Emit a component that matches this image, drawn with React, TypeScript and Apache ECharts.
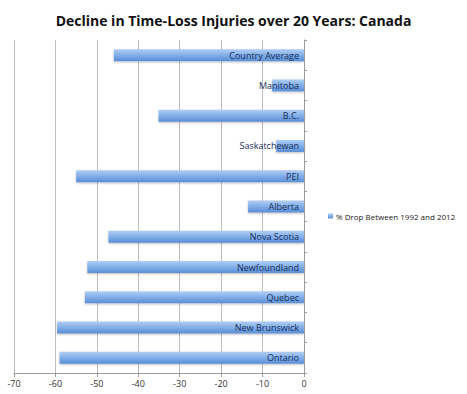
import React, { useEffect, useRef } from "react";
import * as echarts from "echarts";

const categories = [
  "Ontario",
  "New Brunswick",
  "Quebec",
  "Newfoundland",
  "Nova Scotia",
  "Alberta",
  "PEI",
  "Saskatchewan",
  "B.C.",
  "Manitoba",
  "Country Average",
];
const dropValues = [-59, -59.6, -52.9, -52.3, -47.2, -13.5, -55, -6.7, -35.1, -7.7, -45.9];
const seriesName = "% Drop Between 1992 and 2012";
const titleText = "Decline in Time-Loss Injuries over 20 Years: Canada";

export default function App() {
  const ref = useRef<HTMLDivElement>(null);
  useEffect(() => {
    if (!ref.current) return;
    const chart = echarts.init(ref.current, null, { renderer: "svg" });
    chart.setOption({
      animation: false,
      backgroundColor: "#ffffff",
      title: {
        text: titleText,
        left: "center",
        top: 8,
        textStyle: {
          fontFamily: "Open Sans",
          fontWeight: "bold",
          fontSize: 14,
          color: "#111111",
        },
      },
      legend: {
        data: [seriesName],
        orient: "vertical",
        left: 323,
        top: 207,
        itemWidth: 5,
        itemHeight: 5,
        itemGap: 4,
        icon: "rect",
        textStyle: { fontFamily: "Open Sans", fontSize: 8, color: "#222222", padding: [0, 0, 0, -2] },
      },
      grid: { left: 14, right: 163, top: 40, bottom: 21, containLabel: false },
      xAxis: {
        type: "value",
        min: -70,
        max: 0,
        interval: 10,
        axisLine: { show: true, lineStyle: { color: "#9a9a9a" } },
        axisTick: { show: true, length: 4, lineStyle: { color: "#9a9a9a" } },
        axisLabel: { fontFamily: "Open Sans", fontSize: 9, color: "#333333", margin: 6 },
        splitLine: { show: true, lineStyle: { color: "#bdbdbd", width: 1 } },
      },
      yAxis: {
        type: "category",
        data: categories,
        position: "right",
        axisLine: { show: true, lineStyle: { color: "#9a9a9a" } },
        axisTick: { show: true, length: 3, inside: false, lineStyle: { color: "#9a9a9a" } },
        axisLabel: {
          inside: true,
          margin: 5,
          fontFamily: "Open Sans",
          fontSize: 9,
          color: "#17305a",
        },
        z: 10,
      },
      series: [
        {
          name: seriesName,
          type: "bar",
          data: dropValues,
          barWidth: 12,
          itemStyle: {
            color: new echarts.graphic.LinearGradient(0, 0, 0, 1, [
              { offset: 0, color: "#b0cef4" },
              { offset: 0.5, color: "#82aee8" },
              { offset: 1, color: "#5a8dd5" },
            ]),
            shadowColor: "rgba(0,0,0,0.25)",
            shadowBlur: 2,
            shadowOffsetY: 1,
          },
        },
      ],
    });
    return () => chart.dispose();
  }, []);
  return <div ref={ref} style={{ width: 467, height: 394, position: "absolute", left: 0, top: 0 }} />;
}
